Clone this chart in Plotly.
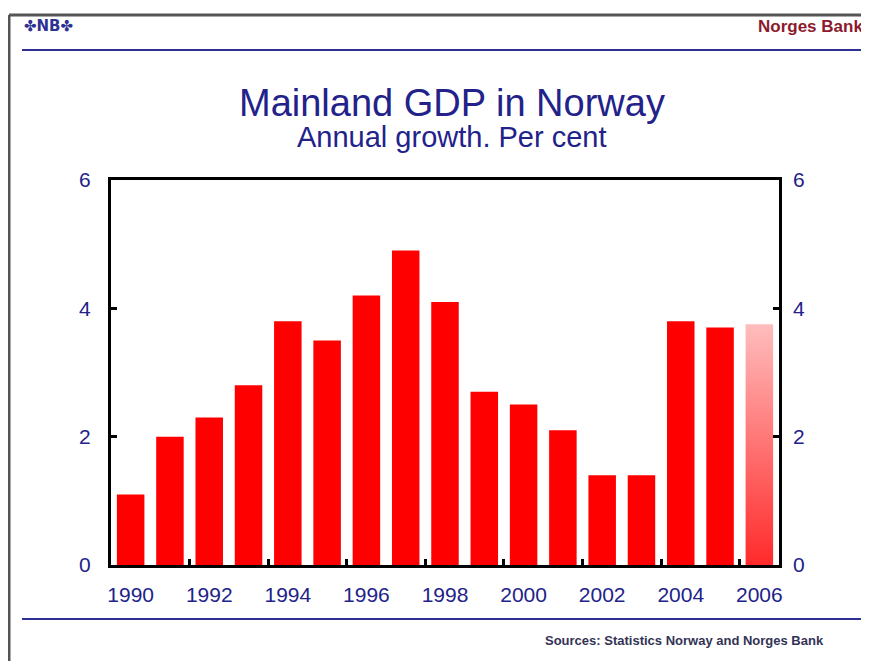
import plotly.graph_objects as go

years = list(range(1990, 2007))
growth = [1.1, 2.0, 2.3, 2.8, 3.8, 3.5, 4.2, 4.9, 4.1, 2.7, 2.5, 2.1, 1.4, 1.4, 3.8, 3.7, 3.75]
label_years = [1990, 1992, 1994, 1996, 1998, 2000, 2002, 2004, 2006]
y_ticks = [0, 2, 4, 6]

navy = "#22228a"
font = "Liberation Sans, Arial, sans-serif"
bar_w = 0.7

# last year is a projection -> gradient bar
fig = go.Figure()
fig.add_trace(go.Bar(x=years[:-1], y=growth[:-1], width=bar_w,
                     marker=dict(color="#ff0000", line=dict(width=0)),
                     hoverinfo="x+y"))
last_x, last_y = years[-1], growth[-1]
fig.add_trace(go.Scatter(
    x=[last_x - bar_w / 2, last_x - bar_w / 2, last_x + bar_w / 2, last_x + bar_w / 2, last_x - bar_w / 2],
    y=[0, last_y, last_y, 0, 0],
    fill="toself", mode="lines", line=dict(width=0),
    fillgradient=dict(type="vertical", colorscale=[[0, "#ff2a2a"], [1, "#ffbdbd"]]),
    hoverinfo="skip", showlegend=False))
# dummy trace for the second axes (tick marks between bars, right axis)
fig.add_trace(go.Scatter(x=[years[0]], y=[0], xaxis="x2", yaxis="y2", mode="markers",
                         marker=dict(opacity=0), hoverinfo="skip", showlegend=False))

xr = [years[0] - 0.5, years[-1] + 0.5]
fig.update_layout(
    width=861, height=653,
    margin=dict(l=103, r=90, t=172, b=96),
    paper_bgcolor="white", plot_bgcolor="white",
    showlegend=False,
    font=dict(family=font, color=navy, size=21),
    xaxis=dict(range=xr, tickvals=label_years, ticks="", showline=True, mirror=True,
               linecolor="black", linewidth=3, showgrid=False, zeroline=False,
               tickfont=dict(size=21, color=navy), ticklabelstandoff=9),
    yaxis=dict(range=[0, 6], tickvals=y_ticks, ticks="inside", ticklen=6, tickwidth=3,
               tickcolor="black", showline=True, mirror=True, linecolor="black", linewidth=3,
               showgrid=False, zeroline=False, tickfont=dict(size=21, color=navy),
               ticklabelstandoff=13),
    xaxis2=dict(range=xr, overlaying="x", anchor="y2", side="bottom",
                tickvals=[y + 0.5 for y in years[1:-1:2]], ticks="inside", ticklen=6,
                tickwidth=3, tickcolor="black", showticklabels=False, showgrid=False,
                zeroline=False, showline=False),
    yaxis2=dict(range=[0, 6], overlaying="y", anchor="x2", side="right", tickvals=y_ticks,
                ticks="inside", ticklen=6, tickwidth=3, tickcolor="black",
                showgrid=False, zeroline=False, showline=False,
                tickfont=dict(size=21, color=navy), ticklabelstandoff=13),
)

# page frame like the slide
fig.add_shape(type="line", xref="paper", yref="paper", x0=-0.1527, x1=1.2, y0=1.4286, y1=1.4286,
              line=dict(color="#555555", width=3))
fig.add_shape(type="line", xref="paper", yref="paper", x0=-0.1527, x1=-0.1527, y0=1.4286, y1=-0.3,
              line=dict(color="#555555", width=3))
fig.add_shape(type="line", xref="paper", yref="paper", x0=-0.1332, x1=1.2, y0=1.3377, y1=1.3377,
              line=dict(color="#2e3192", width=2))
fig.add_shape(type="line", xref="paper", yref="paper", x0=-0.1332, x1=1.2, y0=-0.1403, y1=-0.1403,
              line=dict(color="#2e3192", width=2))

fig.add_annotation(text="<b>✤NB✤</b>", xref="paper", yref="paper", x=-0.1332, y=1.40,
                   xanchor="left", yanchor="middle", showarrow=False,
                   font=dict(size=15, color="#2e3192", family="DejaVu Sans"))
fig.add_annotation(text="<b>Norges Bank</b>", xref="paper", yref="paper", x=1.128, y=1.40,
                   xanchor="right", yanchor="middle", showarrow=False,
                   font=dict(size=17, color="#8b1a2e"))
fig.add_annotation(text="Mainland GDP in Norway", xref="paper", yref="paper", x=0.5105, y=1.2,
                   xanchor="center", yanchor="middle", showarrow=False,
                   font=dict(size=38, color=navy))
fig.add_annotation(text="Annual growth. Per cent", xref="paper", yref="paper", x=0.5105, y=1.1117,
                   xanchor="center", yanchor="middle", showarrow=False,
                   font=dict(size=29, color=navy))
fig.add_annotation(text="<b>Sources: Statistics Norway and Norges Bank</b>", xref="paper", yref="paper",
                   x=0.859, y=-0.195, xanchor="center", yanchor="middle", showarrow=False,
                   font=dict(size=13, color="#333355"))

fig.write_html("out.html")
